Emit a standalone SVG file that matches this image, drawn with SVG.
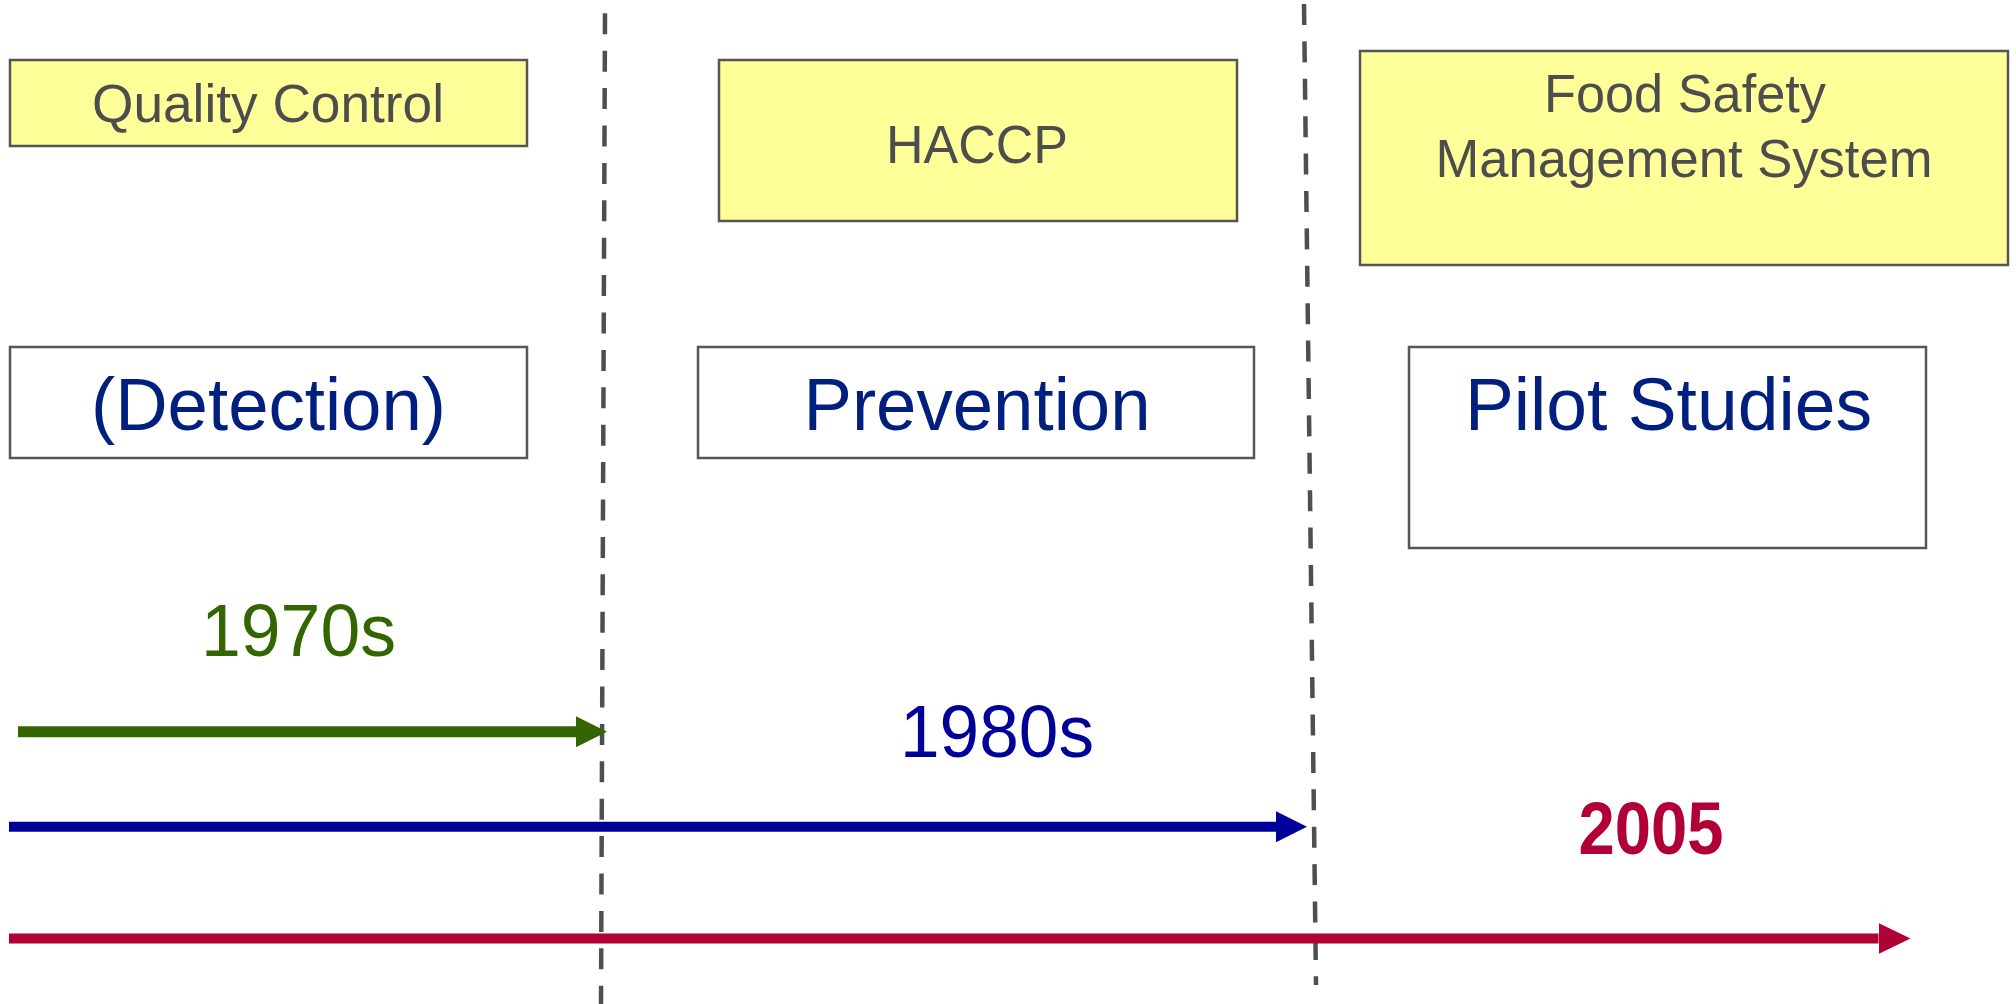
<svg xmlns="http://www.w3.org/2000/svg" width="2016" height="1004" viewBox="0 0 2016 1004">
  <style>
    .box { stroke: #555555; stroke-width: 2.5; }
    .era { fill: #FFFF99; }
    .focus { fill: #FFFFFF; }
    .era-label { font-family: "Liberation Sans", Arial, sans-serif; font-size: 54px; fill: #4D4D4D; text-anchor: middle; }
    .focus-label { font-family: "Liberation Sans", Arial, sans-serif; font-size: 75px; fill: #001F7F; text-anchor: middle; }
    .year { font-family: "Liberation Sans", Arial, sans-serif; font-size: 75px; text-anchor: middle; }
    .divider { stroke: #4F4F4F; stroke-width: 4.5; stroke-dasharray: 21 16.4; fill: none; }
  </style>
  <defs>
    <marker id="head-green" markerUnits="userSpaceOnUse" markerWidth="32" markerHeight="32" refX="0" refY="15.5" orient="auto">
      <path d="M0,0 L31,15.5 L0,31 Z" fill="#336600"/>
    </marker>
    <marker id="head-blue" markerUnits="userSpaceOnUse" markerWidth="32" markerHeight="32" refX="0" refY="15.5" orient="auto">
      <path d="M0,0 L31,15.5 L0,31 Z" fill="#000099"/>
    </marker>
    <marker id="head-red" markerUnits="userSpaceOnUse" markerWidth="33" markerHeight="32" refX="0" refY="15.5" orient="auto">
      <path d="M0,0 L32,15.5 L0,31 Z" fill="#B00035"/>
    </marker>
  </defs>

  <rect width="2016" height="1004" fill="#FFFFFF"/>

  <!-- era dividers -->
  <g id="dividers">
    <line class="divider" x1="605" y1="13.3" x2="601" y2="1004"/>
    <line class="divider" x1="1304" y1="4" x2="1316" y2="985"/>
  </g>

  <!-- top row: approaches -->
  <g id="quality-control">
    <rect class="box era" x="10" y="60" width="517" height="86"/>
    <text class="era-label" x="268" y="122" textLength="352" lengthAdjust="spacingAndGlyphs">Quality Control</text>
  </g>
  <g id="haccp">
    <rect class="box era" x="719" y="60" width="518" height="161"/>
    <text class="era-label" x="977" y="163" textLength="182" lengthAdjust="spacingAndGlyphs">HACCP</text>
  </g>
  <g id="fsms">
    <rect class="box era" x="1360" y="51" width="648" height="214"/>
    <text class="era-label" x="1685" y="112" textLength="282" lengthAdjust="spacingAndGlyphs">Food Safety</text>
    <text class="era-label" x="1684" y="177" textLength="497" lengthAdjust="spacingAndGlyphs">Management System</text>
  </g>

  <!-- second row: focus of each era -->
  <g id="detection">
    <rect class="box focus" x="10" y="347" width="517" height="111"/>
    <text class="focus-label" x="268.5" y="430" textLength="355" lengthAdjust="spacingAndGlyphs">(Detection)</text>
  </g>
  <g id="prevention">
    <rect class="box focus" x="698" y="347" width="556" height="111"/>
    <text class="focus-label" x="977" y="430" textLength="347" lengthAdjust="spacingAndGlyphs">Prevention</text>
  </g>
  <g id="pilot-studies">
    <rect class="box focus" x="1409" y="347" width="517" height="201"/>
    <text class="focus-label" x="1668.5" y="430" textLength="407" lengthAdjust="spacingAndGlyphs">Pilot Studies</text>
  </g>

  <!-- timeline labels -->
  <g id="label-1970s">
    <text class="year" x="298.5" y="656" fill="#336600" textLength="195" lengthAdjust="spacingAndGlyphs">1970s</text>
  </g>
  <g id="label-1980s">
    <text class="year" x="997" y="757" fill="#000099" textLength="194" lengthAdjust="spacingAndGlyphs">1980s</text>
  </g>
  <g id="label-2005">
    <text class="year" x="1651" y="854" fill="#B00035" font-size="68" font-weight="bold" textLength="145" lengthAdjust="spacingAndGlyphs">2005</text>
  </g>

  <!-- timeline arrows -->
  <g id="connectors">
    <line x1="18" y1="731.7" x2="576" y2="731.7" stroke="#336600" stroke-width="11" marker-end="url(#head-green)"/>
    <line x1="9" y1="826.7" x2="1276" y2="826.7" stroke="#000099" stroke-width="10" marker-end="url(#head-blue)"/>
    <line x1="9" y1="938.5" x2="1878.5" y2="938.5" stroke="#B00035" stroke-width="10" marker-end="url(#head-red)"/>
  </g>
</svg>
